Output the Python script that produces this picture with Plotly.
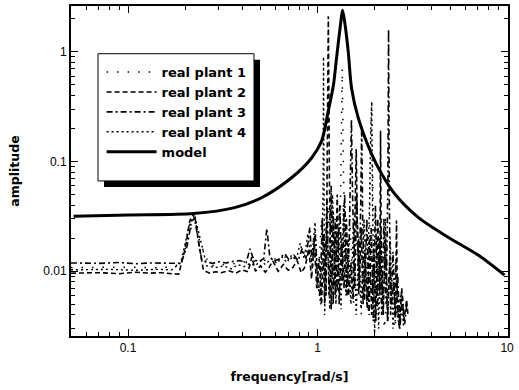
import plotly.graph_objects as go

# ---------------- data ----------------
model_freq = [0.0516, 0.1006, 0.2216, 0.3648, 0.506, 0.729, 0.930, 1.05, 1.138, 1.214, 1.259,
              1.327, 1.355, 1.39, 1.452, 1.512, 1.64, 1.927, 2.177, 2.549, 3.41, 4.91, 7.07, 9.70]
model_amp = [0.0317, 0.0325, 0.0335, 0.0380, 0.0467, 0.0710, 0.1076, 0.153, 0.286, 0.503, 0.870,
             1.87, 2.38, 1.87, 1.0, 0.465, 0.249, 0.117, 0.0771, 0.0508, 0.0308, 0.0203, 0.01396, 0.0092]

p1_freq = [0.05, 0.1, 0.15, 0.19, 0.21, 0.224, 0.24, 0.27, 0.32, 0.38, 0.44, 0.5, 0.56, 0.62, 0.68,
           0.75, 0.82, 0.9, 0.96, 1.0, 1.05, 1.1, 1.15, 1.2, 1.26, 1.3, 1.33, 1.35, 1.37, 1.42, 1.48,
           1.55, 1.62, 1.7, 1.78, 1.86, 1.9, 1.93, 1.96, 2.05, 2.15, 2.25, 2.4, 2.55, 2.7, 2.9]
p1_amp = [0.0108, 0.0109, 0.0107, 0.0115, 0.022, 0.03, 0.018, 0.0112, 0.0115, 0.0118, 0.0125, 0.0122,
          0.013, 0.0128, 0.0135, 0.013, 0.015, 0.014, 0.02, 0.007, 0.03, 0.006, 0.04, 0.005, 0.03,
          0.006, 0.1, 0.7, 0.08, 0.006, 0.03, 0.005, 0.025, 0.004, 0.02, 0.004, 0.1, 0.35, 0.05,
          0.004, 0.015, 0.003, 0.01, 0.003, 0.006, 0.003]

p2_freq = [0.05, 0.07, 0.09, 0.11, 0.13, 0.15, 0.17, 0.185, 0.2, 0.212, 0.224, 0.236, 0.25, 0.27,
           0.29, 0.31, 0.34, 0.37, 0.40, 0.43, 0.45, 0.47, 0.50, 0.53, 0.55, 0.58, 0.62, 0.66, 0.70,
           0.74, 0.78, 0.82, 0.86, 0.90, 0.93, 0.96, 0.99,
           1.02, 1.05, 1.08, 1.11, 1.125, 1.14, 1.155, 1.18, 1.21, 1.24, 1.27, 1.30, 1.34, 1.38,
           1.42, 1.46, 1.50, 1.54, 1.58, 1.60, 1.62, 1.66, 1.70, 1.74, 1.78, 1.83, 1.88, 1.93,
           1.98, 2.03, 2.08, 2.13, 2.15, 2.17, 2.22, 2.28, 2.34, 2.40, 2.46, 2.52, 2.58, 2.61,
           2.64, 2.70, 2.78, 2.86, 2.95, 3.0]
p2_amp = [0.0096, 0.0097, 0.0095, 0.0098, 0.0096, 0.0097, 0.0095, 0.0094, 0.016, 0.029, 0.034, 0.018,
          0.0102, 0.0096, 0.0099, 0.0097, 0.0101, 0.0096, 0.0103, 0.0099, 0.0135, 0.0100, 0.0112,
          0.0098, 0.0105, 0.0124, 0.0100, 0.0115, 0.0102, 0.0108, 0.0125, 0.0097, 0.011, 0.016,
          0.0085, 0.019, 0.007,
          0.013, 0.005, 0.022, 0.006, 0.08, 2.1, 0.07, 0.0045, 0.035, 0.006, 0.05, 0.005, 0.02,
          0.007, 0.03, 0.006, 0.012, 0.0055, 0.04, 0.13, 0.03, 0.007, 0.025, 0.005, 0.015, 0.0045,
          0.02, 0.004, 0.018, 0.0035, 0.03, 0.006, 0.19, 0.01, 0.004, 0.02, 0.0035, 0.012, 0.005,
          0.008, 0.004, 0.029, 0.005, 0.003, 0.007, 0.0035, 0.0055, 0.004]

p3_freq = [0.05, 0.07, 0.09, 0.11, 0.13, 0.15, 0.17, 0.19, 0.205, 0.215, 0.224, 0.232, 0.245, 0.26,
           0.28, 0.30, 0.33, 0.36, 0.39, 0.42, 0.44, 0.46, 0.49, 0.52, 0.54, 0.56, 0.59, 0.63, 0.67,
           0.71, 0.75, 0.79, 0.83, 0.87, 0.91, 0.94, 0.97, 1.0,
           1.03, 1.06, 1.09, 1.12, 1.15, 1.18, 1.21, 1.24, 1.27, 1.31, 1.35, 1.39, 1.43, 1.47, 1.49,
           1.51, 1.53, 1.57, 1.61, 1.65, 1.69, 1.71, 1.73, 1.77, 1.82, 1.87, 1.92, 1.97, 2.02, 2.07,
           2.12, 2.18, 2.24, 2.30, 2.35, 2.37, 2.39, 2.43, 2.50, 2.57, 2.65, 2.72, 2.80, 2.88, 2.96]
p3_amp = [0.0119, 0.0118, 0.0120, 0.0117, 0.0119, 0.0118, 0.0117, 0.0118, 0.017, 0.027, 0.031, 0.022,
          0.0125, 0.0121, 0.0118, 0.0122, 0.0119, 0.0123, 0.0125, 0.0120, 0.0160, 0.0128, 0.0122,
          0.0130, 0.0245, 0.0135, 0.0123, 0.0130, 0.0145, 0.0126, 0.0140, 0.0125, 0.0161, 0.0130,
          0.0250, 0.0110, 0.0230, 0.0090,
          0.006, 0.03, 0.005, 0.045, 0.006, 0.06, 0.005, 0.03, 0.0065, 0.04, 0.008, 0.05, 0.006,
          0.02, 0.08, 0.24, 0.05, 0.007, 0.05, 0.006, 0.04, 0.21, 0.03, 0.0055, 0.03, 0.004, 0.025,
          0.0035, 0.04, 0.005, 0.02, 0.004, 0.03, 0.005, 0.06, 1.6, 0.05, 0.004, 0.015, 0.0035,
          0.009, 0.003, 0.006, 0.0033, 0.005]

p4_freq = [0.05, 0.08, 0.11, 0.14, 0.17, 0.19, 0.21, 0.224, 0.24, 0.26, 0.29, 0.32, 0.35, 0.38,
           0.41, 0.44, 0.47, 0.50, 0.53, 0.57, 0.61, 0.65, 0.69, 0.73, 0.77, 0.81, 0.85, 0.89, 0.93,
           0.97, 1.0,
           1.04, 1.07, 1.075, 1.09, 1.12, 1.16, 1.2, 1.25, 1.29, 1.33, 1.37, 1.41, 1.45, 1.5, 1.55,
           1.6, 1.65, 1.7, 1.76, 1.82, 1.88, 1.91, 1.93, 1.95, 2.0, 2.05, 2.1, 2.16, 2.22, 2.28,
           2.35, 2.42, 2.5, 2.58, 2.66, 2.75, 2.85]
p4_amp = [0.0103, 0.0104, 0.0102, 0.0104, 0.0103, 0.012, 0.026, 0.033, 0.02, 0.0112, 0.0108, 0.0112,
          0.0105, 0.0115, 0.0110, 0.0118, 0.0112, 0.0125, 0.0115, 0.013, 0.0118, 0.0135, 0.012,
          0.014, 0.0125, 0.018, 0.013, 0.022, 0.012, 0.028, 0.008,
          0.005, 0.06, 0.9, 0.004, 0.03, 0.0045, 0.05, 0.005, 0.025, 0.0045, 0.04, 0.006, 0.02,
          0.005, 0.03, 0.004, 0.02, 0.0045, 0.03, 0.005, 0.04, 0.2, 0.35, 0.04, 0.0027, 0.02, 0.003,
          0.025, 0.004, 0.03, 0.0035, 0.02, 0.003, 0.012, 0.0035, 0.006, 0.003]

x_ticks = [0.1, 1, 10]
x_tick_text = ["0.1", "1", "10"]
y_ticks = [0.01, 0.1, 1]
y_tick_text = ["0.01", "0.1", "1"]
x_minor = [0.05, 0.06, 0.07, 0.08, 0.09, 0.2, 0.3, 0.4, 0.5, 0.6, 0.7, 0.8, 0.9,
           2, 3, 4, 5, 6, 7, 8, 9]
y_minor = [0.003, 0.004, 0.005, 0.006, 0.007, 0.008, 0.009, 0.02, 0.03, 0.04, 0.05, 0.06,
           0.07, 0.08, 0.09, 0.2, 0.3, 0.4, 0.5, 0.6, 0.7, 0.8, 0.9, 2]

# ---------------- figure ----------------
TICKFONT = "Liberation Sans, Arial, sans-serif"
BOLDFONT = "DejaVu Sans, sans-serif"
fig = go.Figure()
fig.add_trace(go.Scatter(x=p1_freq, y=p1_amp, mode="lines", name="real plant 1",
                         line=dict(color="black", width=1.5, dash="1.5px,9px")))
fig.add_trace(go.Scatter(x=p2_freq, y=p2_amp, mode="lines", name="real plant 2",
                         line=dict(color="black", width=1.6, dash="5px,3px")))
fig.add_trace(go.Scatter(x=p3_freq, y=p3_amp, mode="lines", name="real plant 3",
                         line=dict(color="black", width=1.6, dash="6px,3px,2px,3px")))
fig.add_trace(go.Scatter(x=p4_freq, y=p4_amp, mode="lines", name="real plant 4",
                         line=dict(color="black", width=1.4, dash="2px,3px")))
fig.add_trace(go.Scatter(x=model_freq, y=model_amp, mode="lines", name="model",
                         line=dict(color="black", width=3, shape="spline", smoothing=0.8)))

axis_common = dict(showline=True, linecolor="black", linewidth=2, mirror="allticks",
                   ticks="inside", ticklen=7, tickwidth=1.3, tickcolor="black",
                   showgrid=False, zeroline=False,
                   tickfont=dict(family=TICKFONT, size=12, color="black"))

fig.update_xaxes(type="log", range=[-1.301, 1.005], tickmode="array",
                 tickvals=x_ticks, ticktext=x_tick_text,
                 minor=dict(ticks="inside", ticklen=4, tickcolor="black", tickvals=x_minor),
                 title=dict(text="frequency[rad/s]", standoff=18,
                            font=dict(family=BOLDFONT, size=12.5, color="black", weight="bold")),
                 **axis_common)
fig.update_yaxes(type="log", range=[-2.59, 0.416], tickmode="array",
                 tickvals=y_ticks, ticktext=y_tick_text,
                 minor=dict(ticks="inside", ticklen=4, tickcolor="black", tickvals=y_minor),
                 title=dict(text="amplitude", standoff=21,
                            font=dict(family=BOLDFONT, size=12.5, color="black", weight="bold")),
                 **axis_common)

# legend frame with drop shadow
fig.add_shape(type="rect", xref="paper", yref="paper", x0=0.0755, x1=0.4325, y0=0.4518, y1=0.8373,
              fillcolor="black", line=dict(width=0), layer="above")
fig.add_shape(type="rect", xref="paper", yref="paper", x0=0.0618, x1=0.4188, y0=0.4699, y1=0.8554,
              fillcolor="white", line=dict(color="black", width=1), layer="above")

fig.update_layout(
    width=519, height=390, autosize=False,
    margin=dict(l=71, r=11, t=4, b=54),
    paper_bgcolor="white", plot_bgcolor="white",
    showlegend=True,
    legend=dict(x=0.07, y=0.845, xanchor="left", yanchor="top", bgcolor="rgba(0,0,0,0)",
                borderwidth=0, font=dict(family=BOLDFONT, size=13, color="black", weight="bold"),
                itemwidth=50, tracegroupgap=0),
)

fig.write_html("out.html")
